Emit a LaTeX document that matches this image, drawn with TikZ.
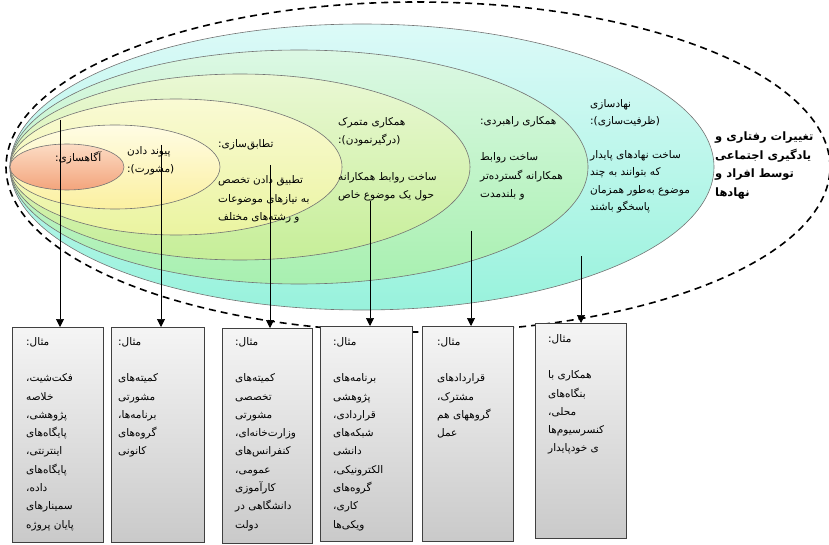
\documentclass[tikz,border=0pt]{standalone}
\usepackage{fontspec}
\newfontfamily\farsifont[Script=Arabic]{DejaVu Sans}
\TeXXeTstate=1
\usepackage{tikz}
\usetikzlibrary{shapes.geometric, arrows.meta, positioning}

\newcommand{\fa}[1]{\beginR #1\endR}

\definecolor{peachT}{HTML}{FCDCC4}\definecolor{peachB}{HTML}{F3A47C}
\definecolor{yelT}{HTML}{FFFCE4}\definecolor{yelB}{HTML}{FBF0A0}
\definecolor{limeT}{HTML}{FAFAD4}\definecolor{limeB}{HTML}{EAF4A0}
\definecolor{leafT}{HTML}{EAF8D4}\definecolor{leafB}{HTML}{C6EE98}
\definecolor{mintT}{HTML}{DCF8E4}\definecolor{mintB}{HTML}{A8F0B0}
\definecolor{aquaT}{HTML}{DCFAF8}\definecolor{aquaB}{HTML}{98F2DC}

\begin{document}
\begin{tikzpicture}[
    x=1pt, y=-1pt,
    >={Triangle[length=8pt, width=8pt]},
    every node/.style={font=\farsifont\fontsize{10.5}{18.3}\selectfont, inner sep=0pt},
    layer/.style={ellipse, draw=black!55, line width=0.6pt, inner sep=0pt},
    example/.style={draw=black!75, line width=0.8pt, top color=gray!8, bottom color=gray!42,
        minimum width=91pt, minimum height=215pt, anchor=north west},
    txt/.style={anchor=north west, align=left},
    boxtxt/.style={txt, font=\farsifont\fontsize{10.5}{18.3}\selectfont}
]

\useasboundingbox (0,0) rectangle (829,545);

% Outer dashed boundary
\draw[line width=1.6pt, dash pattern=on 7pt off 5pt] (418,167) ellipse [x radius=412pt, y radius=165pt];

% Outcome label
\node[txt, font=\farsifont\bfseries\fontsize{11.5}{18.5}\selectfont] (goal) at (715,132)
    {\fa{تغییرات رفتاری و}\\ \fa{یادگیری اجتماعی}\\ \fa{توسط افراد و}\\ \fa{نهادها}};

% Nested stages
\node[layer, minimum width=704pt, minimum height=286pt, top color=aquaT, bottom color=aquaB] (e6) at (362,167) {};
\node[layer, minimum width=578pt, minimum height=234pt, top color=mintT, bottom color=mintB] (e5) at (299,167) {};
\node[layer, minimum width=460pt, minimum height=186pt, top color=leafT, bottom color=leafB] (e4) at (240,167) {};
\node[layer, minimum width=332pt, minimum height=136pt, top color=limeT, bottom color=limeB] (e3) at (176,167) {};
\node[layer, minimum width=210pt, minimum height=84pt, top color=yelT, bottom color=yelB] (e2) at (115,167) {};
\node[layer, minimum width=114pt, minimum height=46pt, top color=peachT, bottom color=peachB] (e1) at (67,167) {};

% Stage texts
\node[txt] (s1) at (55,151) {\fa{آگاهسازی:}};
\node[txt] (s2) at (127,146) {\fa{پیوند دادن}\\ \fa{(مشورت):}};
\node[txt] (s3) at (218,139) {\fa{تطابق‌سازی:}\\ \mbox{}\\ \fa{تطبیق دادن تخصص}\\ \fa{به نیازهای موضوعات}\\ \fa{و رشته‌های مختلف}};
\node[txt] (s4) at (338,117) {\fa{همکاری متمرک}\\ \fa{(درگیرنمودن):}\\ \mbox{}\\ \fa{ساخت روابط همکارانه}\\ \fa{حول یک موضوع خاص}};
\node[txt] (s5) at (480,116) {\fa{همکاری راهبردی:}\\ \mbox{}\\ \fa{ساخت روابط}\\ \fa{همکارانه گسترده‌تر}\\ \fa{و بلندمدت}};
\node[txt, font=\farsifont\fontsize{10.5}{17.2}\selectfont] (s6) at (590,99) {\fa{نهادسازی}\\ \fa{(ظرفیت‌سازی):}\\ \mbox{}\\ \fa{ساخت نهادهای پایدار}\\ \fa{که بتوانند به چند}\\ \fa{موضوع به‌طور همزمان}\\ \fa{پاسخگو باشند}};

% Example boxes
\node[example] (ex1) at (12,327) {};
\node[example, minimum width=93pt] (ex2) at (111,327) {};
\node[example, minimum width=90pt] (ex3) at (222,328) {};
\node[example, minimum width=92pt] (ex4) at (320,326) {};
\node[example] (ex5) at (422,326) {};
\node[example] (ex6) at (535,323) {};

\node[boxtxt, below right=10pt and 14pt of ex1.north west] (t1) {\fa{مثال:}\\ \mbox{}\\ \fa{فکت‌شیت،}\\ \fa{خلاصه}\\ \fa{پژوهشی،}\\ \fa{پایگاه‌های}\\ \fa{اینترنتی،}\\ \fa{پایگاه‌های}\\ \fa{داده،}\\ \fa{سمینارهای}\\ \fa{پایان پروژه}};
\node[boxtxt, below right=10pt and 7pt of ex2.north west] (t2) {\fa{مثال:}\\ \mbox{}\\ \fa{کمیته‌های}\\ \fa{مشورتی}\\ \fa{برنامه‌ها،}\\ \fa{گروه‌های}\\ \fa{کانونی}};
\node[boxtxt, below right=9pt and 13pt of ex3.north west] (t3) {\fa{مثال:}\\ \mbox{}\\ \fa{کمیته‌های}\\ \fa{تخصصی}\\ \fa{مشورتی}\\ \fa{وزارت‌خانه‌ای،}\\ \fa{کنفرانس‌های}\\ \fa{عمومی،}\\ \fa{کارآموزی}\\ \fa{دانشگاهی در}\\ \fa{دولت}};
\node[boxtxt, below right=11pt and 13pt of ex4.north west] (t4) {\fa{مثال:}\\ \mbox{}\\ \fa{برنامه‌های}\\ \fa{پژوهشی}\\ \fa{قراردادی،}\\ \fa{شبکه‌های}\\ \fa{دانشی}\\ \fa{الکترونیکی،}\\ \fa{گروه‌های}\\ \fa{کاری،}\\ \fa{ویکی‌ها}};
\node[boxtxt, below right=11pt and 15pt of ex5.north west] (t5) {\fa{مثال:}\\ \mbox{}\\ \fa{قراردادهای}\\ \fa{مشترک،}\\ \fa{گروههای هم}\\ \fa{عمل}};
\node[boxtxt, below right=11pt and 13pt of ex6.north west] (t6) {\fa{مثال:}\\ \mbox{}\\ \fa{همکاری با}\\ \fa{بنگاه‌های}\\ \fa{محلی،}\\ \fa{کنسرسیوم‌ها}\\ \fa{ی خودپایدار}};

% Arrows down to the examples
\coordinate (a1) at (60,120);
\coordinate (a2) at (161,145);
\coordinate (a3) at (270,165);
\coordinate (a4) at (370,201);
\coordinate (a5) at (471,231);
\coordinate (a6) at (581,256);
\foreach \i in {1,...,6}
    \draw[->, line width=0.7pt] (a\i) -- (a\i |- ex\i.north);

\end{tikzpicture}
\end{document}
